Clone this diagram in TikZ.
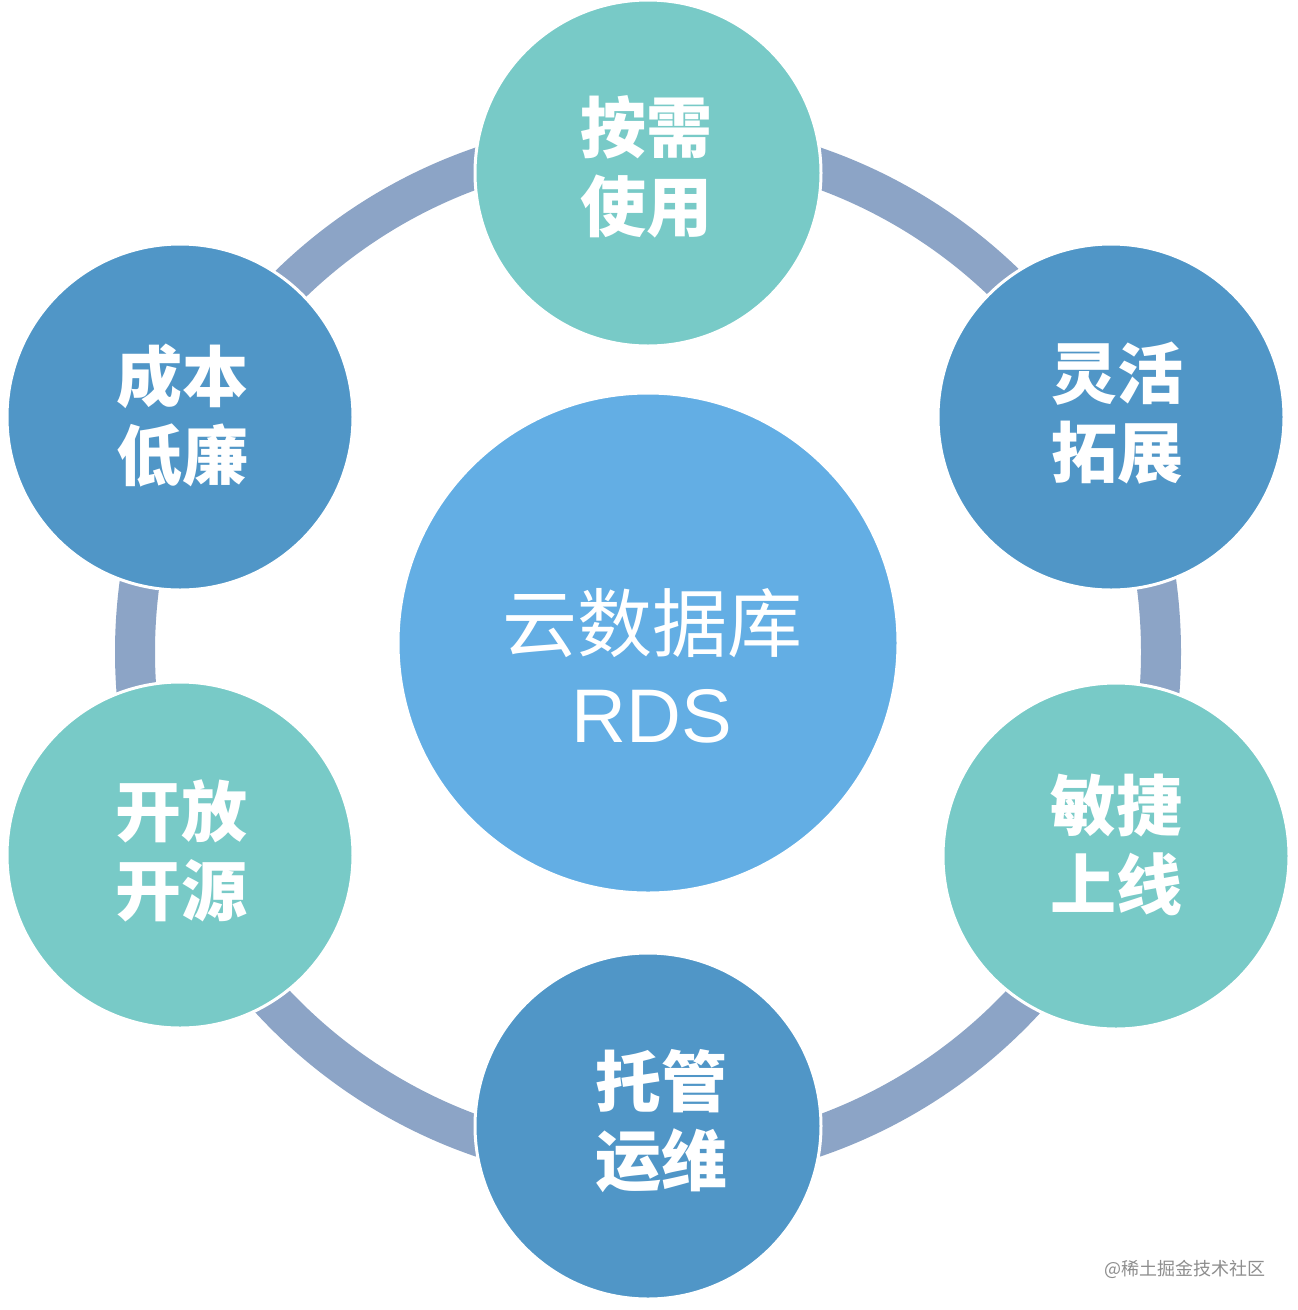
\documentclass[tikz,border=0pt]{standalone}
\usepackage{fontspec}
\newfontfamily\cjk{Noto Sans CJK SC}
\newfontfamily\lsans{Liberation Sans}
\definecolor{teal1}{HTML}{78CAC7}
\definecolor{blue1}{HTML}{5096C7}
\definecolor{hubblue}{HTML}{63AEE4}
\definecolor{ringc}{HTML}{8CA4C6}
\definecolor{wmark}{HTML}{8E8E8E}
\tikzset{
  ringline/.style={draw=ringc, line width=40pt},
  disc/.style={circle, draw=white, line width=3pt, inner sep=0pt},
  tealdisc/.style={disc, fill=teal1, minimum size=346pt},
  bluedisc/.style={disc, fill=blue1, minimum size=346pt},
  hubdisc/.style={disc, fill=hubblue, minimum size=500pt},
  satlabel/.style={text=white, align=center, inner sep=0pt,
    font=\cjk\bfseries\fontsize{66pt}{79pt}\selectfont},
  hublabel/.style={text=white, align=center, inner sep=0pt,
    font=\cjk\fontsize{75pt}{91pt}\selectfont},
  wmlabel/.style={text=wmark, inner sep=0pt,
    font=\cjk\fontsize{18pt}{20pt}\selectfont}
}
\begin{document}
\begin{tikzpicture}[x=1pt, y=-1pt]
\useasboundingbox[fill=white] (0,0) rectangle (1298,1310);
% ring behind the discs
\coordinate (ringc) at (648,652);
\draw[ringline] (ringc) circle[radius=513pt];
% discs
\node[tealdisc] (top) at (648,173) {};
\node[bluedisc] (upright) at (1111,417) {};
\node[tealdisc] (lowright) at (1116,856) {};
\node[bluedisc] (bottom) at (648,1126) {};
\node[tealdisc] (lowleft) at (180,855) {};
\node[bluedisc] (upleft) at (180,417) {};
\node[hubdisc] (hub) at (648,643) {};
% labels
\node[satlabel] (toplab) at (646,167) {按需\\使用};
\node[satlabel] (uprightlab) at (1117,413) {灵活\\拓展};
\node[satlabel] (lowrightlab) at (1116,845) {敏捷\\上线};
\node[satlabel] (bottomlab) at (661,1121) {托管\\运维};
\node[satlabel] (lowleftlab) at (181,851) {开放\\开源};
\node[satlabel] (upleftlab) at (182,416) {成本\\低廉};
\node[hublabel] (hublab) at (652,666) {云数据库\\{\lsans\fontsize{76pt}{91pt}\selectfont RDS}};
% watermark
\node[wmlabel] (wm) at (1185,1269) {@稀土掘金技术社区};
\end{tikzpicture}
\end{document}
